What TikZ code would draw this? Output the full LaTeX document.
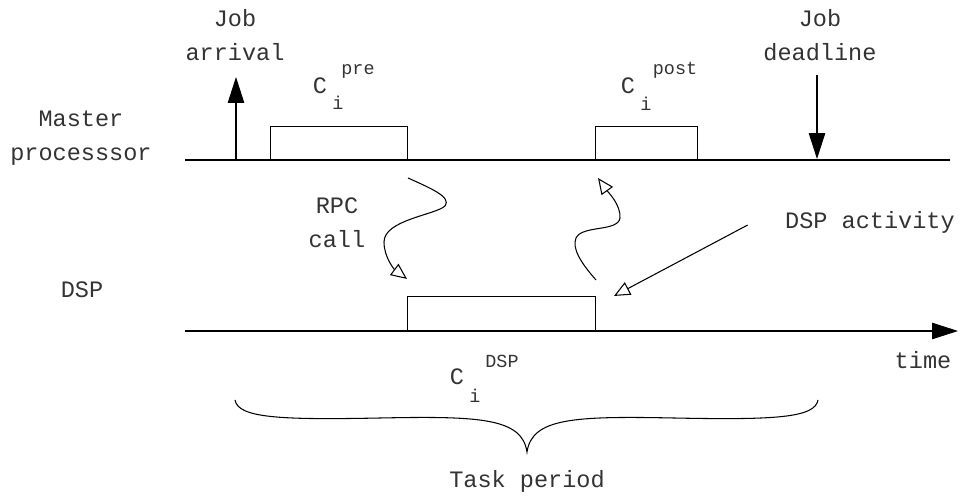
\documentclass[tikz,border=0pt]{standalone}
\usepackage{fontspec}
\setmainfont{Liberation Mono}
\usetikzlibrary{arrows.meta,positioning}

\begin{document}
\begin{tikzpicture}[
    x=0.02cm, y=-0.02cm,
    line width=0.6pt,
    label/.style={font=\fontsize{13.4}{19.5}\selectfont, text=black!80, align=center, inner sep=0pt},
    tiny/.style={font=\fontsize{10.5}{12}\selectfont, text=black!80, inner sep=0pt},
    slot/.style={rectangle, draw=black, fill=white, minimum height=0.66cm, anchor=south west, inner sep=0pt},
    bigtip/.style={-{Triangle[length=0.52cm, width=0.33cm]}},
    opentip/.style={-{Triangle[open, length=0.32cm, width=0.28cm]}}
]
\useasboundingbox (0,0) rectangle (961,496);

% Time lines
\coordinate (m0) at (185,160);
\coordinate (m1) at (950,160);
\coordinate (d0) at (185,331);
\coordinate (d1) at (958,331);
\draw (m0) -- (m1);
\draw[bigtip] (d0) -- (d1);

% Row labels
\node[label] (master) at (81,138) {Master\\processsor};
\node[label] (dsplabel) at (82,290) {DSP};
\node[label] (time) at (923,360) {time};

% Execution slots
\node[slot, minimum width=2.74cm] (pre) at (270,160) {};
\node[slot, minimum width=2.04cm] (post) at (595,160) {};
\node[slot, minimum width=3.76cm, minimum height=0.68cm] (dsp) at (407,331) {};

% Cost labels
\node[label] (cpre) at (320,86) {C};
\node[tiny] at (338,103) {i};
\node[tiny] at (358,71) {pre};
\node[label] (cpost) at (628,86) {C};
\node[tiny] at (646,104) {i};
\node[tiny] at (675,70) {post};
\node[label] (cdsp) at (457,377) {C};
\node[tiny] at (475,396) {i};
\node[tiny] at (502,361) {DSP};

% Arrival and deadline
\node[label] (arrival) at (235,35) {Job\\arrival};
\node[label] (deadline) at (820,35) {Job\\deadline};
\coordinate (a0) at (236,160);
\coordinate (a1) at (236,77);
\coordinate (e0) at (817,75);
\coordinate (e1) at (817,159);
\draw[bigtip] (a0) -- (a1);
\draw[bigtip] (e0) -- (e1);

% RPC call and return
\node[label] (rpc) at (337,223) {RPC\\call};
\draw[opentip] ([yshift=-0.36cm]pre.south east)
    .. controls (430,188) and (452,197) .. (445,206)
    .. controls (435,215) and (384,220) .. (384,242)
    .. controls (384,258) and (395,270) .. ([yshift=0.34cm]dsp.north west);
\draw[opentip] ([yshift=0.32cm]dsp.north east)
    .. controls (580,262) and (572,248) .. (576,238)
    .. controls (582,225) and (618,232) .. (620,218)
    .. controls (621,205) and (608,192) .. ([xshift=0.06cm, yshift=-0.36cm]post.south west);

% DSP activity
\node[label] (activity) at (870,222) {DSP activity};
\draw[opentip] ([xshift=-0.74cm, yshift=-0.06cm]activity.west) -- ([xshift=0.36cm]dsp.north east);

% Task period brace
\coordinate (bl) at (235,400);
\coordinate (br) at (818,400);
\coordinate (btip) at (527,452);
\draw (bl) .. controls (238,418) and (280,420) .. (380,418)
    .. controls (480,416) and (522,418) .. (btip)
    .. controls (532,418) and (574,416) .. (674,418)
    .. controls (774,420) and (815,418) .. (br);
\node[label] (period) at (527,481) {Task period};

\end{tikzpicture}
\end{document}
